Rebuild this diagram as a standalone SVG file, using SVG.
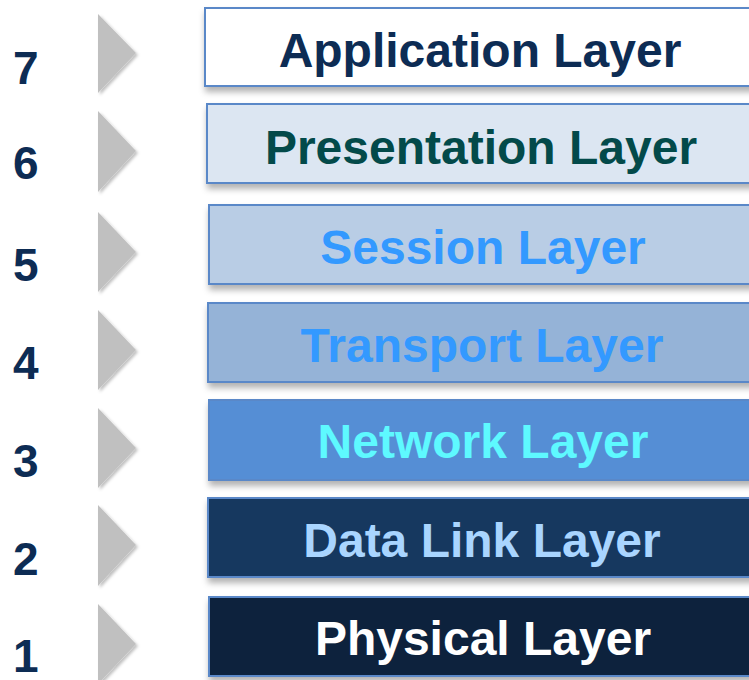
<svg xmlns="http://www.w3.org/2000/svg" width="749" height="680" viewBox="0 0 749 680">
<defs>
<filter id="sh" x="-10%" y="-20%" width="130%" height="160%">
<feDropShadow dx="1" dy="5" stdDeviation="3" flood-color="#000" flood-opacity="0.3"/>
</filter>
<filter id="tsh" x="-20%" y="-20%" width="150%" height="150%">
<feDropShadow dx="2" dy="2" stdDeviation="1.5" flood-color="#000" flood-opacity="0.25"/>
</filter>
</defs>
<style>
.num{font-family:"Liberation Sans",Arial,sans-serif;font-weight:bold;font-size:46px;fill:#0d2c54}
.lbl{font-family:"Liberation Sans",Arial,sans-serif;font-weight:bold;font-size:48px;text-anchor:middle}
.box{stroke:#5a88c8;stroke-width:2;filter:url(#sh)}
.tri{fill:#c0c0c0;filter:url(#tsh)}
</style>
<rect width="749" height="680" fill="#fff"/>
<g id="layer7">
<text class="num" x="13" y="84">7</text>
<polygon class="tri" points="98,14 136,53 98,93"/>
<rect class="box" x="205" y="8" width="550" height="78" fill="#ffffff"/>
<text class="lbl" x="480" y="67" fill="#0d2c54">Application Layer</text>
</g>
<g id="layer6">
<text class="num" x="13" y="179">6</text>
<polygon class="tri" points="98,111 136,151 98,192"/>
<rect class="box" x="207" y="104" width="550" height="79" fill="#dce6f2"/>
<text class="lbl" x="481" y="164" fill="#034a4a">Presentation Layer</text>
</g>
<g id="layer5">
<text class="num" x="13" y="281">5</text>
<polygon class="tri" points="98,212 136,252 98,292"/>
<rect class="box" x="209" y="205" width="550" height="79" fill="#b9cde5"/>
<text class="lbl" x="483" y="264" fill="#3399ff">Session Layer</text>
</g>
<g id="layer4">
<text class="num" x="13" y="379">4</text>
<polygon class="tri" points="98,310 136,350 98,390"/>
<rect class="box" x="208" y="303" width="550" height="79" fill="#95b3d7"/>
<text class="lbl" x="482" y="362" fill="#3399ff">Transport Layer</text>
</g>
<g id="layer3">
<text class="num" x="13" y="477">3</text>
<polygon class="tri" points="98,408 136,448 98,488"/>
<rect class="box" x="209" y="400" width="550" height="80" fill="#558ed5"/>
<text class="lbl" x="483" y="458" fill="#5ef9ff">Network Layer</text>
</g>
<g id="layer2">
<text class="num" x="13" y="575">2</text>
<polygon class="tri" points="98,505 136,545 98,586"/>
<rect class="box" x="208" y="498" width="550" height="79" fill="#17375e"/>
<text class="lbl" x="482" y="557" fill="#a9d5ff">Data Link Layer</text>
</g>
<g id="layer1">
<text class="num" x="13" y="672">1</text>
<polygon class="tri" points="98,604 136,644 98,684"/>
<rect class="box" x="209" y="597" width="550" height="79" fill="#10243e"/>
<text class="lbl" x="483" y="655" fill="#ffffff">Physical Layer</text>
</g>
<g id="connectors"/>
</svg>
